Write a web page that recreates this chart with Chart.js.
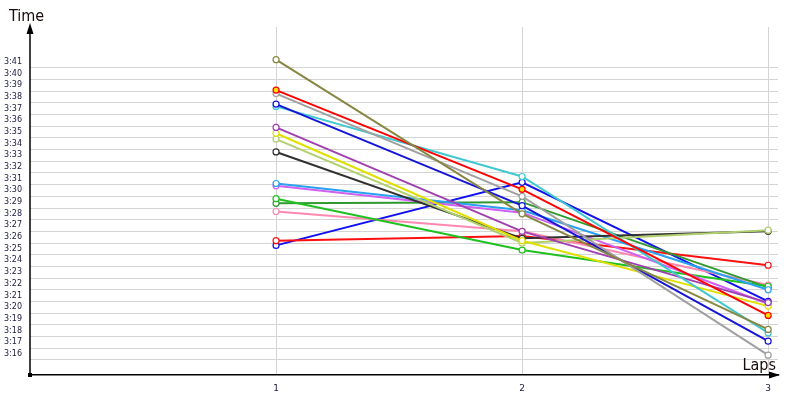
<!DOCTYPE html>
<html lang="en">
<head>
<meta charset="UTF-8">
<title>Lap times</title>
<script src="https://cdn.jsdelivr.net/npm/chart.js"></script>
<style>
  html, body { margin: 0; padding: 0; background: #fff; }
  #wrap { width: 800px; height: 400px; }
</style>
</head>
<body>
<div id="wrap"><canvas id="lapChart"></canvas></div>
<script>
// laps on the x axis
const laps = [1, 2, 3];
// y tick seconds: 3:16 .. 3:41
const timeTicks = [196, 197, 198, 199, 200, 201, 202, 203, 204, 205, 206, 207, 208,
                   209, 210, 211, 212, 213, 214, 215, 216, 217, 218, 219, 220, 221];

// lap times in seconds (3:16 = 196), one array per driver
const olive      = [221.7, 208.5, 198.6];
const redYellow  = [219.1, 210.6, 199.8];
const gray       = [218.8, 210.0, 196.4];
const darkBlue   = [217.9, 209.2, 197.6];
const cyan       = [217.7, 211.7, 198.3];
const purple     = [215.9, 207.0, 200.9];
const yellow     = [215.4, 206.2, 200.6];
const lightGreen = [214.9, 206.0, 207.1];
const black      = [213.8, 206.4, 207.0];
const skyBlue    = [211.1, 208.8, 202.0];
const violet     = [210.9, 208.6, 200.8];
const green      = [209.8, 205.4, 202.3];
const darkGreen  = [209.4, 209.5, 202.2];
const pink       = [208.7, 207.0, 202.4];
const red        = [206.2, 206.6, 204.1];
const blue       = [205.8, 211.2, 201.0];

const series = [olive, redYellow, gray, darkBlue, cyan, purple, yellow, lightGreen,
                black, skyBlue, violet, green, darkGreen, pink, red, blue];
const colors = ['#878743', '#ff0000', '#a0a0a0', '#1515d8', '#40c8d0', '#a040b0', '#e0e000', '#b0d070',
                '#303030', '#2aa0f0', '#d060f0', '#20c020', '#309a30', '#ff88b0', '#ff1010', '#1010f0'];

function fmtTime(v) {
    const s = Math.round(v) - 180;
    return '3:' + String(s).padStart(2, '0');
}

const datasets = series.map((vals, i) => ({
    data: vals.map((v, j) => ({ x: laps[j], y: v })),
    borderColor: colors[i],
    borderWidth: 2,
    pointRadius: 3,
    pointBorderWidth: 1.2,
    pointBorderColor: colors[i],
    pointBackgroundColor: i === 1 ? '#ffe000' : '#ffffff',
    fill: false,
    tension: 0
}));

// arrows, origin mark and axis captions
const decorations = {
    id: 'decorations',
    afterDraw(chart) {
        const c = chart.ctx;
        const a = chart.chartArea;
        c.save();
        c.fillStyle = '#000';
        c.strokeStyle = '#000';
        // y axis arrow
        c.beginPath();
        c.moveTo(a.left, 23);
        c.lineTo(a.left - 3.5, 34);
        c.lineTo(a.left + 3.5, 34);
        c.closePath();
        c.fill();
        c.lineWidth = 1.5;
        c.beginPath();
        c.moveTo(a.left, 30);
        c.lineTo(a.left, a.bottom);
        c.stroke();
        // x axis arrow
        c.beginPath();
        c.moveTo(a.right + 2, a.bottom);
        c.lineTo(a.right - 9, a.bottom - 3.5);
        c.lineTo(a.right - 9, a.bottom + 3.5);
        c.closePath();
        c.fill();
        // origin square
        c.fillRect(a.left - 2, a.bottom - 2, 4, 4);
        // captions
        c.fillStyle = '#1a0a0a';
        c.font = '16px "Liberation Sans Narrow", "DejaVu Sans Condensed", "Liberation Sans"';
        c.textBaseline = 'alphabetic';
        c.textAlign = 'left';
        c.fillText('Time', 9, 21);
        c.textAlign = 'right';
        c.fillText('Laps', 776, 370);
        c.restore();
    }
};

new Chart(document.getElementById('lapChart'), {
    type: 'line',
    data: { datasets },
    options: {
        responsive: true,
        maintainAspectRatio: false,
        animation: false,
        layout: { padding: { left: 4, right: 22, top: 27, bottom: 0 } },
        plugins: { legend: { display: false }, tooltip: { enabled: false } },
        scales: {
            x: {
                type: 'linear',
                min: 0,
                max: 3.04,
                afterBuildTicks: (scale) => { scale.ticks = laps.map(v => ({ value: v })); },
                afterFit: (scale) => { scale.height = 25; },
                grid: { color: '#d4d4d4', lineWidth: 1, drawTicks: false },
                border: { color: '#000', width: 1.5 },
                ticks: {
                    padding: 8,
                    color: '#1a1a40',
                    font: { family: 'DejaVu Sans', size: 9 },
                    callback: (v) => String(v)
                }
            },
            y: {
                type: 'linear',
                min: 194.7,
                max: 224.5,
                afterBuildTicks: (scale) => { scale.ticks = timeTicks.map(v => ({ value: v })); },
                afterFit: (scale) => { scale.width = 26; },
                grid: { color: '#d4d4d4', lineWidth: 1, drawTicks: false },
                border: { display: false },
                ticks: {
                    crossAlign: 'far',
                    labelOffset: -6,
                    padding: 0,
                    color: '#1a1a40',
                    font: { family: 'DejaVu Sans', size: 8 },
                    callback: (v) => fmtTime(v)
                }
            }
        }
    },
    plugins: [decorations]
});
</script>
</body>
</html>
